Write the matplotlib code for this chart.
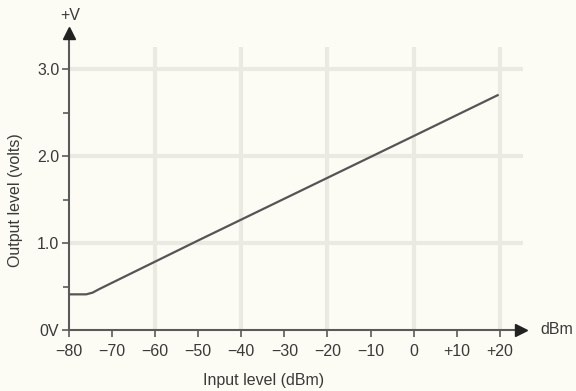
import matplotlib
matplotlib.use("Agg")
import matplotlib.pyplot as plt

# Data
input_dbm = [-80, -76, -74.5, -73, -50, -20, 0, 19.5]
output_v = [0.41, 0.41, 0.43, 0.47, 1.03, 1.75, 2.23, 2.70]

x_ticks = [-80, -70, -60, -50, -40, -30, -20, -10, 0, 10, 20]
x_labels = ["\u221280", "\u221270", "\u221260", "\u221250", "\u221240", "\u221230",
            "\u221220", "\u221210", "0", "+10", "+20"]
y_ticks = [0, 1, 2, 3]
y_labels = ["0V", "1.0", "2.0", "3.0"]
y_minor = [0.5, 1.5, 2.5]
v_grid = [-60, -40, -20, 0, 20]
h_grid = [1, 2, 3]

plt.rcParams['font.family'] = ['Liberation Sans', 'DejaVu Sans']
bg = '#fcfcf4'
axc = '#5a5a5a'
txt = '#3a3a3a'
gridc = '#eaeae2'

fig = plt.figure(figsize=(5.76, 3.91), dpi=100, facecolor=bg)
ax = fig.add_axes([69/576, 61/391, 454/576, 300/391])
ax.set_facecolor(bg)
ax.set_xlim(-80, 25.4)
ax.set_ylim(0, 3.45)

for g in v_grid:
    ax.plot([g, g], [0, 3.25], color=gridc, lw=3, zorder=1, solid_capstyle='butt')
for g in h_grid:
    ax.plot([-80, 25.4], [g, g], color=gridc, lw=3, zorder=1, solid_capstyle='butt')

ax.plot(input_dbm, output_v, color='#555555', lw=1.6, zorder=3)

for s in ['top', 'right']:
    ax.spines[s].set_visible(False)
for s in ['left', 'bottom']:
    ax.spines[s].set_color(axc)
    ax.spines[s].set_linewidth(1.5)

ax.set_xticks(x_ticks)
ax.set_xticklabels(x_labels)
ax.set_yticks(y_ticks)
ax.set_yticklabels(y_labels)
ax.set_yticks(y_minor, minor=True)
ax.tick_params(axis='x', which='major', colors=axc, labelcolor=txt, length=5,
               width=1.2, labelsize=11.5, pad=5)
ax.tick_params(axis='y', which='major', colors=axc, labelcolor=txt, length=5,
               width=1.2, labelsize=11.5, pad=2)
ax.tick_params(axis='y', which='minor', colors=axc, length=4, width=1.2)

ax.plot(0.995, 0, marker='>', color='#222222', markersize=9, transform=ax.transAxes,
        clip_on=False, zorder=5)
ax.plot(0, 0.99, marker='^', color='#222222', markersize=9, transform=ax.transAxes,
        clip_on=False, zorder=5)

fig.text(557/576, 1 - 329/391, "dBm", ha='center', va='center', fontsize=11.5, color=txt)
fig.text(70/576, 1 - 15/391, "+V", ha='center', va='center', fontsize=11.5, color=txt)
fig.text(264/576, 1 - 381/391, "Input level (dBm)", ha='center', va='center',
         fontsize=11.5, color=txt)
fig.text(16/576, 1 - 200/391, "Output level (volts)", ha='center', va='center',
         rotation=90, fontsize=11.5, color=txt)

fig.savefig("out.png", dpi=100, facecolor=bg)
